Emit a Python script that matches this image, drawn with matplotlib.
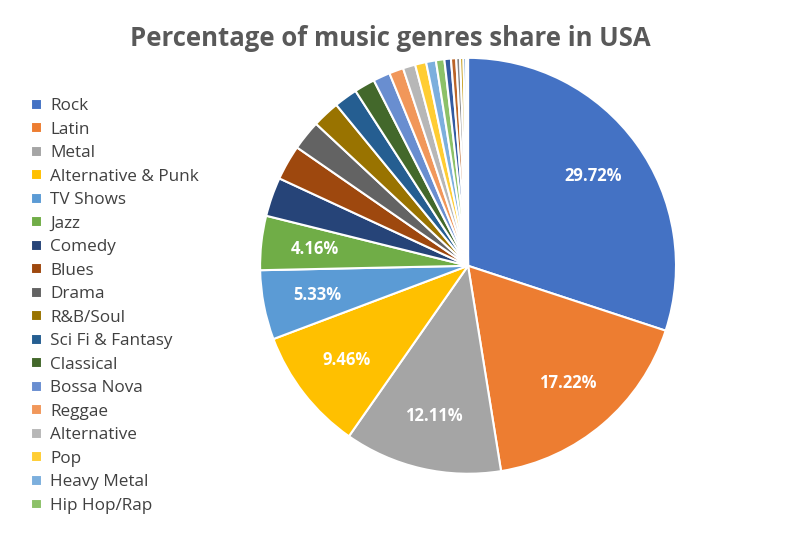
import matplotlib
matplotlib.use("Agg")
import matplotlib.pyplot as plt
import numpy as np

genres = ["Rock","Latin","Metal","Alternative & Punk","TV Shows","Jazz","Comedy","Blues","Drama",
          "R&B/Soul","Sci Fi & Fantasy","Classical","Bossa Nova","Reggae","Alternative","Pop",
          "Heavy Metal","Hip Hop/Rap","World","Easy Listening","Electronica/Dance","Soundtrack",
          "Rock And Roll","Science Fiction"]
shares = [29.72,17.22,12.11,9.46,5.33,4.16,3.0,2.7,2.3,2.1,1.8,1.6,1.3,1.1,0.95,0.85,
          0.75,0.65,0.5,0.4,0.3,0.25,0.2,0.15]
colors = ["#4472C4","#ED7D31","#A5A5A5","#FFC000","#5B9BD5","#70AD47","#264478","#9E480E",
          "#636363","#997300","#255E91","#43682B","#698ED0","#F1975A","#B7B7B7","#FFCD33",
          "#7CAFDD","#8CC168","#335AA1","#BA6427","#848484","#C09200","#3A7BBF","#5A8B3A"]

fig = plt.figure(figsize=(7.96,5.52), dpi=100)
fig.patch.set_facecolor("white")
ax = fig.add_axes([0.324,0.138,0.528,0.761])
wedges, texts = ax.pie(shares, colors=colors, startangle=90, counterclock=False,
                       wedgeprops=dict(edgecolor="white", linewidth=1.5))
for w, v in zip(wedges, shares):
    if v > 4:
        ang = np.deg2rad((w.theta1 + w.theta2)/2)
        r = 0.74
        ax.text(r*np.cos(ang), r*np.sin(ang), f"{v:.2f}%", ha="center", va="center",
                color="white", fontsize=12, fontweight="bold", family="Open Sans")
ax.set_xlim(-1.01,1.01); ax.set_ylim(-1.01,1.01)
ax.set_aspect("equal")
fig.text(0.49, 0.93, "Percentage of music genres share in USA", ha="center", va="center",
         fontsize=18.5, fontweight="bold", color="#595959", family="Open Sans")
fig.legend(wedges[:18], genres[:18], loc="upper left", bbox_to_anchor=(0.02,0.85),
           frameon=False, handlelength=0.6, handleheight=0.6,
           labelspacing=0.44, handletextpad=0.5, labelcolor="#404040",
           prop=dict(family="Open Sans", size=12.3))
fig.savefig("out.png", dpi=100)
